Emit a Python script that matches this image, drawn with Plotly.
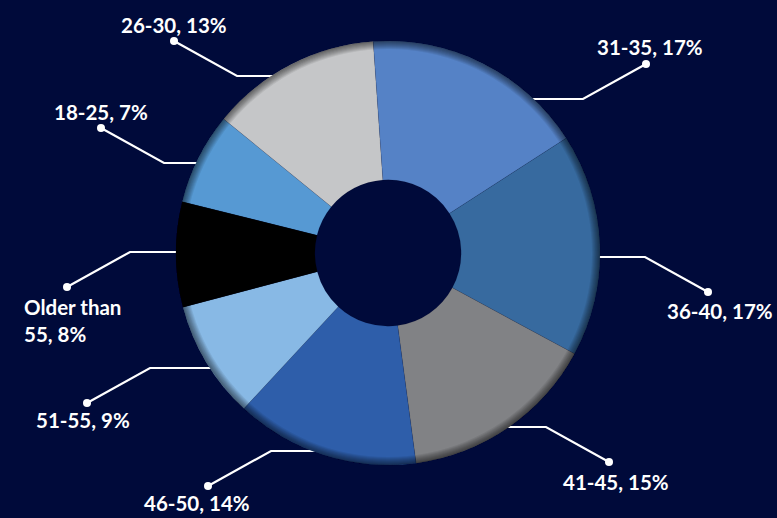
import math
import plotly.graph_objects as go

# ---- data ----
categories = ["18-25", "26-30", "31-35", "36-40", "41-45", "46-50", "51-55", "Older than 55"]
shares = [7, 13, 17, 17, 15, 14, 9, 8]
label_texts = ["18-25, 7%", "26-30, 13%", "31-35, 17%", "36-40, 17%", "41-45, 15%",
               "46-50, 14%", "51-55, 9%", "Older than<br>55, 8%"]

# ---- style / layout ----
colors = ["#5699D3", "#C5C6C8", "#5582C6", "#376A9F", "#818285", "#2E5EAA", "#88B9E5", "#000000"]
BG = "#000A3A"
W, H = 777, 518
CX, CY, R = 388, 253, 212          # pie centre and radius in pixels
HOLE = 0.345

# label dot positions (px) and text positions (px) -- layout only
dot_px = [(101, 128), (174, 41), (646, 64), (708, 292), (609, 462), (208, 486), (87, 403), (67, 287)]
text_px = [(101, 112), (174, 25), (650, 47), (720, 311), (616, 482), (197, 503), (83, 420), (22, 320)]
text_anchor = ["center"] * 7 + ["left"]
DIAG_DX, DIAG_DY = 63, 35


def px(x, y):
    return x / W, 1 - y / H


dom_x = [(CX - R) / W, (CX + R) / W]
dom_y = [1 - (CY + R) / H, 1 - (CY - R) / H]

fig = go.Figure()
fig.add_trace(go.Pie(
    labels=categories, values=shares, sort=False, direction="clockwise",
    rotation=284, hole=HOLE, textinfo="none", hoverinfo="label+percent",
    marker=dict(colors=colors, line=dict(color="rgba(0,0,0,0.15)", width=0.5)),
    domain=dict(x=dom_x, y=dom_y), showlegend=False,
))

# outer-edge shading rings (inner shadow)
for k in range(1, 9):
    fig.add_trace(go.Pie(
        values=[1], labels=["edge"], hole=(R - k) / R, textinfo="none", hoverinfo="skip",
        marker=dict(colors=["rgba(0,0,0,0.075)"], line=dict(width=0)),
        domain=dict(x=dom_x, y=dom_y), showlegend=False, sort=False,
    ))

shapes = []
annotations = []
for i, cat in enumerate(categories):
    dx_, dy_ = dot_px[i]
    sx = 1 if dx_ > CX else -1
    sy = -1 if dy_ < CY - 60 else 1
    ex, ey = dx_ - sx * DIAG_DX, dy_ - sy * DIAG_DY
    rin = R - 8
    ix = CX + sx * math.sqrt(max(rin ** 2 - (ey - CY) ** 2, 0))
    p0, p1, p2 = px(ix, ey), px(ex, ey), px(dx_, dy_)
    shapes.append(dict(
        type="path", xref="paper", yref="paper", layer="below",
        path=f"M {p0[0]},{p0[1]} L {p1[0]},{p1[1]} L {p2[0]},{p2[1]}",
        line=dict(color="white", width=2.2),
    ))
    shapes.append(dict(
        type="circle", xref="paper", yref="paper", xsizemode="pixel", ysizemode="pixel",
        xanchor=p2[0], yanchor=p2[1], x0=-4, x1=4, y0=-4, y1=4, layer="below",
        fillcolor="white", line=dict(width=0),
    ))
    tx, ty = px(*text_px[i])
    annotations.append(dict(
        x=tx, y=ty, xref="paper", yref="paper", text=label_texts[i], showarrow=False,
        xanchor=text_anchor[i], yanchor="middle", align="left",
        font=dict(family="Lato", size=20.5, color="white", weight="bold"),
    ))

fig.update_layout(
    width=W, height=H, margin=dict(l=0, r=0, t=0, b=0),
    paper_bgcolor=BG, plot_bgcolor=BG,
    shapes=shapes, annotations=annotations, showlegend=False,
)

fig.write_html(
    "out.html",
    config={"displayModeBar": False},
    post_script="document.body.style.margin='0';document.body.style.overflow='hidden';"
                "document.documentElement.style.background='" + BG + "';",
)
